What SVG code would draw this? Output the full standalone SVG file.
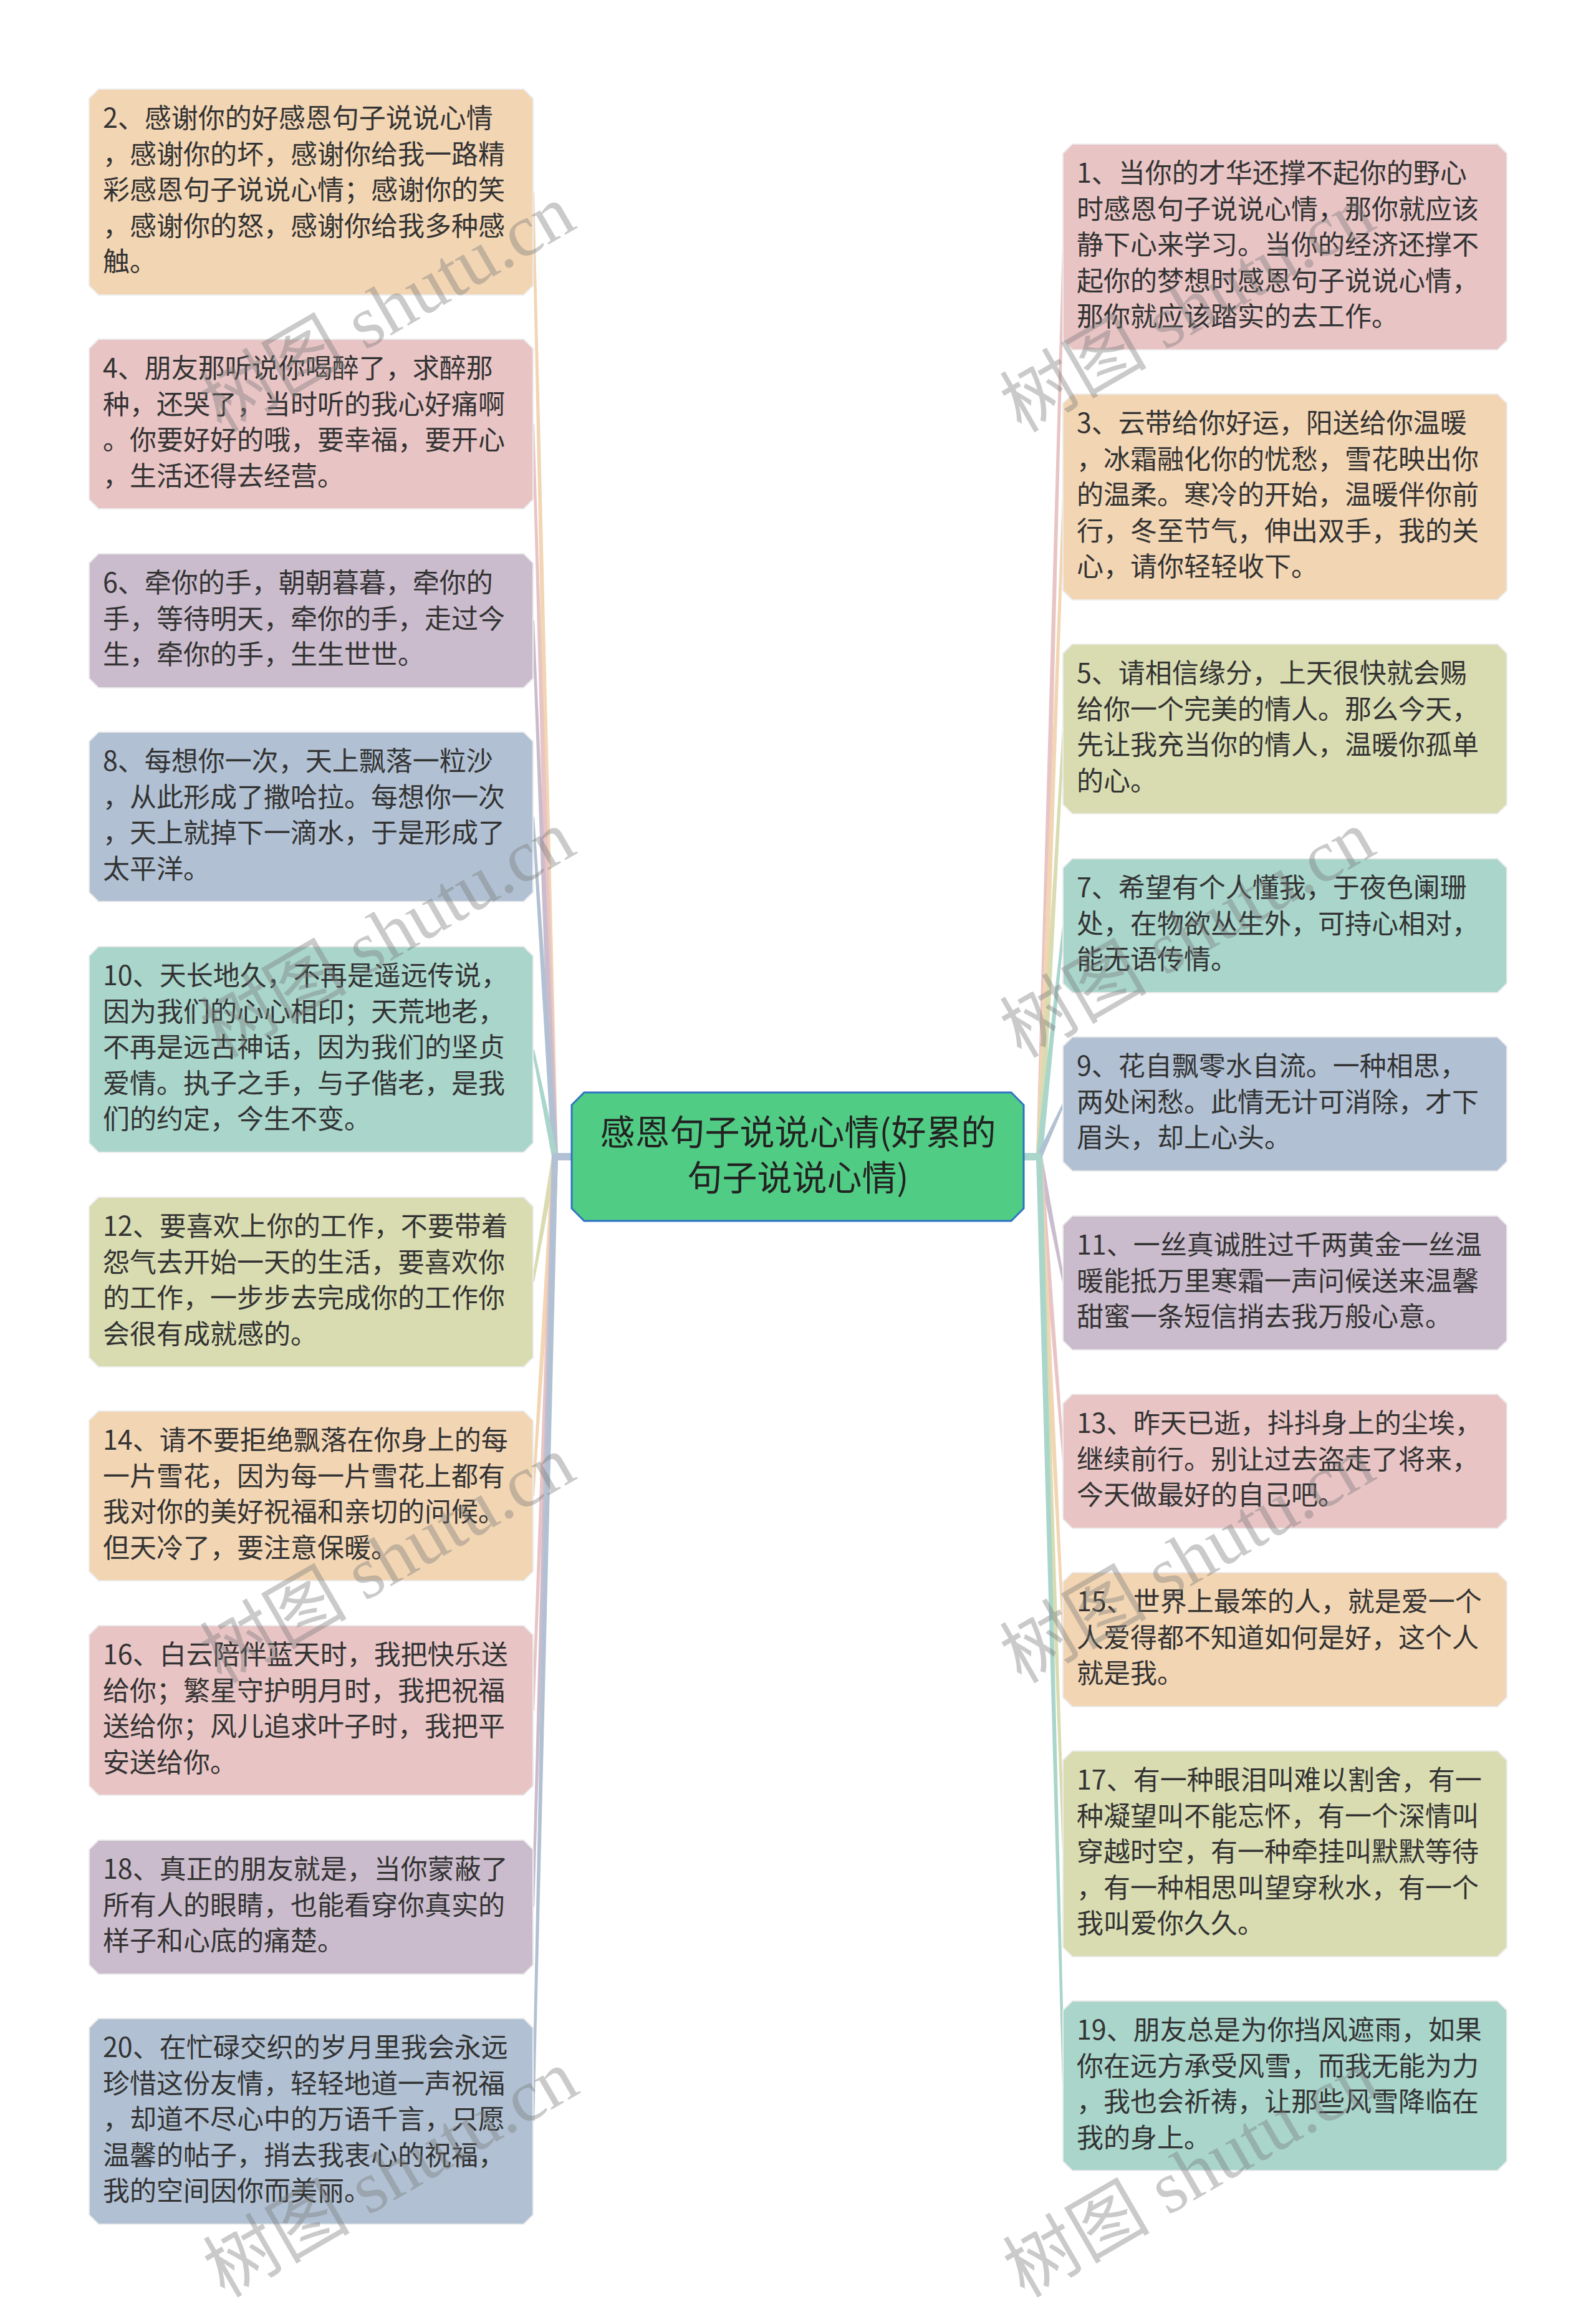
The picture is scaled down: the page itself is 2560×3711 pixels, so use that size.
<svg xmlns="http://www.w3.org/2000/svg" xmlns:xlink="http://www.w3.org/1999/xlink" width="2560" height="3711" viewBox="0 0 2560 3711">
<style>
.peach{fill:#f2d5b3}
.pink{fill:#e8c4c5}
.lilac{fill:#cbbccd}
.blue{fill:#b1c1d3}
.teal{fill:#a9d5cb}
.olive{fill:#d9dcb1}
.box{stroke:#ececec;stroke-width:2}
.t{font-family:"Noto Sans CJK SC","Noto Sans",sans-serif;font-size:43px;fill:#333333}
.ct{font-family:"Noto Sans CJK SC","Noto Sans",sans-serif;font-size:56px;fill:#222222;text-anchor:middle}
.wm{font-family:"Liberation Serif","Noto Sans CJK SC",serif;font-size:118px;fill:#7a7a7a;fill-opacity:0.4}
</style>
<defs>
<path id="n5" d="M15,0H697L712,15V315L697,330H15L0,315V15Z"/>
<path id="n4" d="M15,0H697L712,15V257L697,272H15L0,257V15Z"/>
<path id="n3" d="M15,0H697L712,15V200L697,215H15L0,200V15Z"/>
</defs>
<rect width="2560" height="3711" fill="#ffffff"/>

<g id="connectors">
<polygon class="peach" points="885,1855 895,1855 857,308 853,308"/>
<polygon class="pink" points="885,1855 895,1855 857,680 853,680"/>
<polygon class="lilac" points="885,1855 895,1855 857,995 853,995"/>
<polygon class="blue" points="885,1855 895,1855 857,1310 853,1310"/>
<polygon class="teal" points="885,1855 895,1855 857,1683 853,1683"/>
<polygon class="olive" points="885,1855 895,1855 857,2056 853,2056"/>
<polygon class="peach" points="885,1855 895,1855 857,2399 853,2399"/>
<polygon class="pink" points="885,1855 895,1855 857,2743 853,2743"/>
<polygon class="lilac" points="885,1855 895,1855 857,3058 853,3058"/>
<polygon class="blue" points="885,1855 895,1855 857,3402 853,3402"/>
<rect class="blue" x="886" y="1849" width="33" height="12"/>
<polygon class="pink" points="1662,1855 1672,1855 1708,396 1704,396"/>
<polygon class="peach" points="1662,1855 1672,1855 1708,797 1704,797"/>
<polygon class="olive" points="1662,1855 1672,1855 1708,1169 1704,1169"/>
<polygon class="teal" points="1662,1855 1672,1855 1708,1484 1704,1484"/>
<polygon class="blue" points="1662,1855 1672,1855 1708,1770 1704,1770"/>
<polygon class="lilac" points="1662,1855 1672,1855 1708,2057 1704,2057"/>
<polygon class="pink" points="1662,1855 1672,1855 1708,2343 1704,2343"/>
<polygon class="peach" points="1662,1855 1672,1855 1708,2629 1704,2629"/>
<polygon class="olive" points="1662,1855 1672,1855 1708,2973 1704,2973"/>
<polygon class="teal" points="1662,1855 1672,1855 1708,3345 1704,3345"/>
<rect class="teal" x="1640" y="1849" width="30" height="12"/>
</g>

<g id="center">
<path d="M937,1752H1622L1642,1772V1938L1622,1958H937L917,1938V1772Z" fill="#51cc84" stroke="#2d72c4" stroke-width="3"/>
<text class="ct" x="1280" y="1836">感恩句子说说心情(好累的</text>
<text class="ct" x="1280" y="1909">句子说说心情)</text>
</g>

<g id="node2">
<use href="#n5" class="peach box" x="143" y="143"/>
<text class="t"><tspan x="165" y="205">2、感谢你的好感恩句子说说心情</tspan><tspan x="165" y="262.5">，感谢你的坏，感谢你给我一路精</tspan><tspan x="165" y="320">彩感恩句子说说心情；感谢你的笑</tspan><tspan x="165" y="377.5">，感谢你的怒，感谢你给我多种感</tspan><tspan x="165" y="435">触。</tspan></text>
</g>
<g id="node4">
<use href="#n4" class="pink box" x="143" y="544"/>
<text class="t"><tspan x="165" y="606">4、朋友那听说你喝醉了，求醉那</tspan><tspan x="165" y="663.5">种，还哭了，当时听的我心好痛啊</tspan><tspan x="165" y="721">。你要好好的哦，要幸福，要开心</tspan><tspan x="165" y="778.5">，生活还得去经营。</tspan></text>
</g>
<g id="node6">
<use href="#n3" class="lilac box" x="143" y="888"/>
<text class="t"><tspan x="165" y="950">6、牵你的手，朝朝暮暮，牵你的</tspan><tspan x="165" y="1007.5">手，等待明天，牵你的手，走过今</tspan><tspan x="165" y="1065">生，牵你的手，生生世世。</tspan></text>
</g>
<g id="node8">
<use href="#n4" class="blue box" x="143" y="1174"/>
<text class="t"><tspan x="165" y="1236">8、每想你一次，天上飘落一粒沙</tspan><tspan x="165" y="1293.5">，从此形成了撒哈拉。每想你一次</tspan><tspan x="165" y="1351">，天上就掉下一滴水，于是形成了</tspan><tspan x="165" y="1408.5">太平洋。</tspan></text>
</g>
<g id="node10">
<use href="#n5" class="teal box" x="143" y="1518"/>
<text class="t"><tspan x="165" y="1580">10、天长地久，不再是遥远传说，</tspan><tspan x="165" y="1637.5">因为我们的心心相印；天荒地老，</tspan><tspan x="165" y="1695">不再是远古神话，因为我们的坚贞</tspan><tspan x="165" y="1752.5">爱情。执子之手，与子偕老，是我</tspan><tspan x="165" y="1810">们的约定，今生不变。</tspan></text>
</g>
<g id="node12">
<use href="#n4" class="olive box" x="143" y="1920"/>
<text class="t"><tspan x="165" y="1982">12、要喜欢上你的工作，不要带着</tspan><tspan x="165" y="2039.5">怨气去开始一天的生活，要喜欢你</tspan><tspan x="165" y="2097">的工作，一步步去完成你的工作你</tspan><tspan x="165" y="2154.5">会很有成就感的。</tspan></text>
</g>
<g id="node14">
<use href="#n4" class="peach box" x="143" y="2263"/>
<text class="t"><tspan x="165" y="2325">14、请不要拒绝飘落在你身上的每</tspan><tspan x="165" y="2382.5">一片雪花，因为每一片雪花上都有</tspan><tspan x="165" y="2440">我对你的美好祝福和亲切的问候。</tspan><tspan x="165" y="2497.5">但天冷了，要注意保暖。</tspan></text>
</g>
<g id="node16">
<use href="#n4" class="pink box" x="143" y="2607"/>
<text class="t"><tspan x="165" y="2669">16、白云陪伴蓝天时，我把快乐送</tspan><tspan x="165" y="2726.5">给你；繁星守护明月时，我把祝福</tspan><tspan x="165" y="2784">送给你；风儿追求叶子时，我把平</tspan><tspan x="165" y="2841.5">安送给你。</tspan></text>
</g>
<g id="node18">
<use href="#n3" class="lilac box" x="143" y="2951"/>
<text class="t"><tspan x="165" y="3013">18、真正的朋友就是，当你蒙蔽了</tspan><tspan x="165" y="3070.5">所有人的眼睛，也能看穿你真实的</tspan><tspan x="165" y="3128">样子和心底的痛楚。</tspan></text>
</g>
<g id="node20">
<use href="#n5" class="blue box" x="143" y="3237"/>
<text class="t"><tspan x="165" y="3299">20、在忙碌交织的岁月里我会永远</tspan><tspan x="165" y="3356.5">珍惜这份友情，轻轻地道一声祝福</tspan><tspan x="165" y="3414">，却道不尽心中的万语千言，只愿</tspan><tspan x="165" y="3471.5">温馨的帖子，捎去我衷心的祝福，</tspan><tspan x="165" y="3529">我的空间因你而美丽。</tspan></text>
</g>

<g id="node1">
<use href="#n5" class="pink box" x="1705" y="231"/>
<text class="t"><tspan x="1727" y="293">1、当你的才华还撑不起你的野心</tspan><tspan x="1727" y="350.5">时感恩句子说说心情，那你就应该</tspan><tspan x="1727" y="408">静下心来学习。当你的经济还撑不</tspan><tspan x="1727" y="465.5">起你的梦想时感恩句子说说心情，</tspan><tspan x="1727" y="523">那你就应该踏实的去工作。</tspan></text>
</g>
<g id="node3">
<use href="#n5" class="peach box" x="1705" y="632"/>
<text class="t"><tspan x="1727" y="694">3、云带给你好运，阳送给你温暖</tspan><tspan x="1727" y="751.5">，冰霜融化你的忧愁，雪花映出你</tspan><tspan x="1727" y="809">的温柔。寒冷的开始，温暖伴你前</tspan><tspan x="1727" y="866.5">行，冬至节气，伸出双手，我的关</tspan><tspan x="1727" y="924">心，请你轻轻收下。</tspan></text>
</g>
<g id="node5">
<use href="#n4" class="olive box" x="1705" y="1033"/>
<text class="t"><tspan x="1727" y="1095">5、请相信缘分，上天很快就会赐</tspan><tspan x="1727" y="1152.5">给你一个完美的情人。那么今天，</tspan><tspan x="1727" y="1210">先让我充当你的情人，温暖你孤单</tspan><tspan x="1727" y="1267.5">的心。</tspan></text>
</g>
<g id="node7">
<use href="#n3" class="teal box" x="1705" y="1377"/>
<text class="t"><tspan x="1727" y="1439">7、希望有个人懂我，于夜色阑珊</tspan><tspan x="1727" y="1496.5">处，在物欲丛生外，可持心相对，</tspan><tspan x="1727" y="1554">能无语传情。</tspan></text>
</g>
<g id="node9">
<use href="#n3" class="blue box" x="1705" y="1663"/>
<text class="t"><tspan x="1727" y="1725">9、花自飘零水自流。一种相思，</tspan><tspan x="1727" y="1782.5">两处闲愁。此情无计可消除，才下</tspan><tspan x="1727" y="1840">眉头，却上心头。</tspan></text>
</g>
<g id="node11">
<use href="#n3" class="lilac box" x="1705" y="1950"/>
<text class="t"><tspan x="1727" y="2012">11、一丝真诚胜过千两黄金一丝温</tspan><tspan x="1727" y="2069.5">暖能抵万里寒霜一声问候送来温馨</tspan><tspan x="1727" y="2127">甜蜜一条短信捎去我万般心意。</tspan></text>
</g>
<g id="node13">
<use href="#n3" class="pink box" x="1705" y="2236"/>
<text class="t"><tspan x="1727" y="2298">13、昨天已逝，抖抖身上的尘埃，</tspan><tspan x="1727" y="2355.5">继续前行。别让过去盗走了将来，</tspan><tspan x="1727" y="2413">今天做最好的自己吧。</tspan></text>
</g>
<g id="node15">
<use href="#n3" class="peach box" x="1705" y="2522"/>
<text class="t"><tspan x="1727" y="2584">15、世界上最笨的人，就是爱一个</tspan><tspan x="1727" y="2641.5">人爱得都不知道如何是好，这个人</tspan><tspan x="1727" y="2699">就是我。</tspan></text>
</g>
<g id="node17">
<use href="#n5" class="olive box" x="1705" y="2808"/>
<text class="t"><tspan x="1727" y="2870">17、有一种眼泪叫难以割舍，有一</tspan><tspan x="1727" y="2927.5">种凝望叫不能忘怀，有一个深情叫</tspan><tspan x="1727" y="2985">穿越时空，有一种牵挂叫默默等待</tspan><tspan x="1727" y="3042.5">，有一种相思叫望穿秋水，有一个</tspan><tspan x="1727" y="3100">我叫爱你久久。</tspan></text>
</g>
<g id="node19">
<use href="#n4" class="teal box" x="1705" y="3209"/>
<text class="t"><tspan x="1727" y="3271">19、朋友总是为你挡风遮雨，如果</tspan><tspan x="1727" y="3328.5">你在远方承受风雪，而我无能为力</tspan><tspan x="1727" y="3386">，我也会祈祷，让那些风雪降临在</tspan><tspan x="1727" y="3443.5">我的身上。</tspan></text>
</g>

<g id="watermark">
<text class="wm" transform="translate(355,695) rotate(-30)">树图 shutu.cn</text>
<text class="wm" transform="translate(1638,695) rotate(-30)">树图 shutu.cn</text>
<text class="wm" transform="translate(355,1698) rotate(-30)">树图 shutu.cn</text>
<text class="wm" transform="translate(1638,1698) rotate(-30)">树图 shutu.cn</text>
<text class="wm" transform="translate(355,2701) rotate(-30)">树图 shutu.cn</text>
<text class="wm" transform="translate(1638,2701) rotate(-30)">树图 shutu.cn</text>
<text class="wm" transform="translate(360,3686) rotate(-30)">树图 shutu.cn</text>
<text class="wm" transform="translate(1643,3686) rotate(-30)">树图 shutu.cn</text>
</g>
</svg>
